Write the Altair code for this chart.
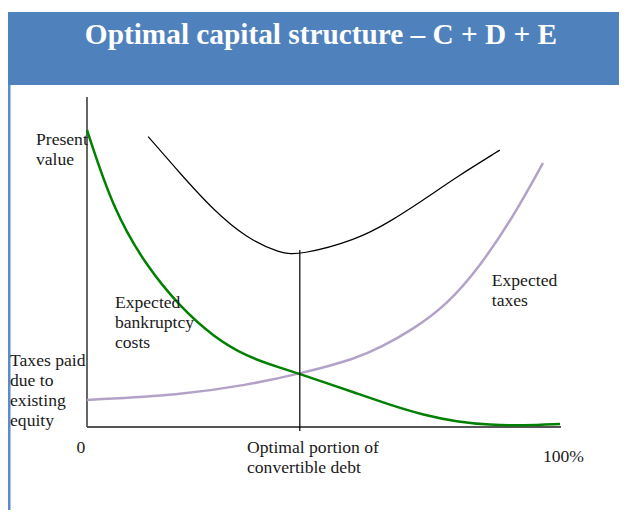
import altair as alt
import pandas as pd

# ---- data (x: % convertible debt, y: present value) ----
green_x = [0, 5.55, 12.6, 19.6, 26.6, 33.7, 40.7, 44.9, 56.9, 63.9, 71.0, 78.0, 85.0, 92.0, 99.8]
green_y = [90.0, 65.8, 48.6, 36.5, 27.4, 21.3, 18.0, 16.1, 10.2, 6.7, 3.6, 1.6, 0.6, 0.4, 0.9]

black_x = [12.9, 19.6, 26.6, 33.7, 40.7, 44.9, 56.9, 63.9, 71.0, 78.0, 87.1]
black_y = [88.0, 76.9, 65.8, 57.2, 52.6, 52.1, 56.7, 62.2, 68.8, 75.8, 83.9]

purple_x = [0, 19.6, 33.7, 44.9, 56.9, 61.8, 68.8, 75.9, 82.9, 89.9, 95.4, 96.2]
purple_y = [8.2, 9.7, 12.7, 16.1, 20.8, 24.0, 29.6, 37.0, 48.6, 63.7, 77.9, 80.0]

optimal_x = 44.9
optimal_top = 53.6
axis_x = [0, 100]
axis_y = [0, 100]

label_texts = ["Present\nvalue", "Taxes paid\ndue to\nexisting\nequity", "0",
               "Optimal portion of\nconvertible debt", "100%", "Expected\ntaxes",
               "Expected\nbankruptcy\ncosts"]
label_x = [-10.76, -16.24, -2.2, 33.76, 96.2, 85.4, 5.9]
label_y = [85.45, 18.5, -7.88, -7.88, -10.6, 42.7, 36.1]

title_text = "Optimal capital structure \u2013 C + D + E"

# ---- layout ----
W, H = 611, 502
XD = [-16.667, 112.24]
YD = [-25.15, 126.97]
FONT = "Liberation Serif"
BLUE = "#4F81BD"
CURVE = "basis"

xs = alt.Scale(domain=XD, nice=False, zero=False)
ys = alt.Scale(domain=YD, nice=False, zero=False)


def X(f="x"):
    return alt.X(f"{f}:Q", scale=xs, axis=None)


def Y(f="y"):
    return alt.Y(f"{f}:Q", scale=ys, axis=None)


def line_df(xv, yv):
    return pd.DataFrame({"x": xv, "y": yv})


band = alt.Chart(pd.DataFrame({"a": [0]})).mark_rect(color=BLUE).encode(
    x=alt.value(0), x2=alt.value(W), y=alt.value(4), y2=alt.value(77)
)
border = alt.Chart(pd.DataFrame({"a": [0]})).mark_rule(color="#5B8BC9", strokeWidth=3).encode(
    x=alt.value(1), y=alt.value(77), y2=alt.value(H)
)
title = alt.Chart(pd.DataFrame({"t": [title_text]})).mark_text(
    font=FONT, fontSize=29.3, fontWeight="bold", color="white", align="center", baseline="alphabetic"
).encode(x=alt.value(313), y=alt.value(36), text="t:N")

vaxis = alt.Chart(pd.DataFrame({"x": [0], "y": [axis_y[0]], "y2": [axis_y[1]]})).mark_rule(
    color="#666666", strokeWidth=2
).encode(x=X(), y=Y(), y2="y2:Q")
haxis = alt.Chart(pd.DataFrame({"x": [axis_x[0]], "x2": [axis_x[1]], "y": [0]})).mark_rule(
    color="#555555", strokeWidth=2
).encode(x=X(), x2="x2:Q", y=Y())

green = alt.Chart(line_df(green_x, green_y)).mark_line(
    color="#008000", strokeWidth=2.5, interpolate=CURVE
).encode(x=X(), y=Y(), order="x:Q")
purple = alt.Chart(line_df(purple_x, purple_y)).mark_line(
    color="#B3A2C7", strokeWidth=2.5, interpolate=CURVE
).encode(x=X(), y=Y(), order="x:Q")
black = alt.Chart(line_df(black_x, black_y)).mark_line(
    color="black", strokeWidth=1.2, interpolate=CURVE
).encode(x=X(), y=Y(), order="x:Q")

optline = alt.Chart(pd.DataFrame({"x": [optimal_x], "y": [-1.2], "y2": [optimal_top]})).mark_rule(
    color="black", strokeWidth=1.2
).encode(x=X(), y=Y(), y2="y2:Q")

labels = alt.Chart(pd.DataFrame({"x": label_x, "y": label_y, "t": label_texts})).mark_text(
    font=FONT, fontSize=17.6, color="#1a1a1a", align="left", baseline="alphabetic",
    lineBreak="\n", lineHeight=20
).encode(x=X(), y=Y(), text="t:N")

chart = alt.layer(
    band, border, title, vaxis, haxis, purple, green, black, optline, labels
).properties(
    width=W, height=H, padding=0, autosize=alt.AutoSizeParams(type="none"), background="white"
).configure_view(stroke=None)

chart.save("out.html", embed_options={"renderer": "svg", "actions": False})
